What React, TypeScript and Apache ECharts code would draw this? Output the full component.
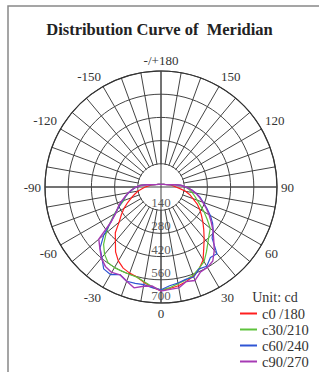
import React, { useEffect, useRef } from "react";
import * as echarts from "echarts";

const TITLE = "Distribution Curve of  Meridian";
const UNIT = "Unit: cd";
const NAMES = ["c0 /180", "c30/210", "c60/240", "c90/270"];
const COLORS = ["#ff1f1f", "#5ec23c", "#2f55d4", "#a63ab4"];
const RADIUS_TICKS = [140, 280, 420, 560, 700];

const ANGLES = [
  -180, -150, -135, -120, -110, -100, -95,
  -90, -85, -80, -75, -70, -65, -60, -55, -50, -45, -40, -35, -30, -25, -20, -15, -10, -5,
  0, 5, 10, 15, 20, 25, 30, 35, 40, 45, 50, 55, 60, 65, 70, 75, 80, 85, 90,
  95, 100, 110, 120, 135, 150, 180,
];

const C0 = [
  16, 18, 22, 30, 42, 62, 75,
  95, 115, 140, 163, 190, 222, 258, 292, 330, 390, 428, 478, 515, 540, 553, 562, 585, 608,
  625, 615, 605, 590, 572, 545, 508, 450, 405, 365, 330, 298, 270, 240, 205, 180, 150, 115, 90,
  75, 62, 42, 30, 22, 18, 16,
];
const C30 = [
  16, 18, 22, 30, 42, 80, 128,
  150, 175, 198, 222, 238, 280, 324, 375, 432, 490, 530, 557, 562, 560, 560, 563, 580, 605,
  622, 610, 592, 580, 566, 542, 520, 478, 440, 410, 388, 340, 300, 262, 232, 210, 190, 170, 148,
  120, 80, 42, 30, 22, 18, 16,
];
const C60 = [
  16, 18, 22, 30, 42, 80, 120,
  150, 172, 198, 222, 248, 280, 318, 370, 450, 520, 555, 603, 610, 584, 605, 602, 598, 610,
  620, 598, 588, 577, 578, 545, 552, 520, 525, 436, 412, 380, 344, 305, 272, 245, 215, 185, 150,
  120, 80, 42, 30, 22, 18, 16,
];
const C90 = [
  16, 18, 22, 30, 42, 80, 120,
  150, 175, 200, 225, 255, 285, 315, 368, 490, 522, 560, 585, 595, 585, 605, 630, 608, 600,
  628, 620, 618, 590, 600, 565, 560, 545, 500, 450, 410, 370, 335, 300, 268, 240, 212, 182, 150,
  120, 80, 42, 30, 22, 18, 16,
];
const SERIES_VALUES = [C0, C30, C60, C90];

const FONT = "Liberation Serif";
const CENTER = [161, 187];
const RADIUS = 116;

export default function App() {
  const ref = useRef<HTMLDivElement>(null);
  useEffect(() => {
    document.body.style.margin = "0";
    if (!ref.current) return;
    const chart = echarts.init(ref.current, null, { renderer: "svg" });
    const lineSeries = SERIES_VALUES.map((vals, i) => ({
      type: "line",
      name: NAMES[i],
      coordinateSystem: "polar",
      polarIndex: 0,
      data: vals.map((v, j) => [v, ANGLES[j]]),
      showSymbol: false,
      symbol: "none",
      lineStyle: { color: COLORS[i], width: i === 3 ? 1.4 : 1.2 },
      itemStyle: { color: COLORS[i] },
      z: 3,
      silent: true,
    }));
    chart.setOption({
      animation: false,
      backgroundColor: "#ffffff",
      title: {
        text: TITLE,
        left: "center",
        top: 21,
        padding: 0,
        textStyle: { fontFamily: FONT, fontWeight: "bold", fontSize: 16.5, color: "#222" },
      },
      polar: [
        { center: CENTER, radius: RADIUS },
        { center: CENTER, radius: RADIUS },
      ],
      angleAxis: [
        {
          polarIndex: 0,
          type: "value",
          min: -180,
          max: 180,
          interval: 10,
          startAngle: 90,
          clockwise: false,
          z: 0,
          axisLine: { lineStyle: { color: "#333", width: 1.2 } },
          axisTick: { show: false },
          axisLabel: {
            margin: 4,
            fontFamily: FONT,
            fontSize: 13,
            color: "#333",
            formatter: (v: number) => {
              if (v % 30 !== 0) return "";
              if (v === -180) return "-/+180";
              if (v === 180) return "";
              return String(v);
            },
          },
          splitLine: { lineStyle: { color: "#444", width: 1 } },
        },
        {
          polarIndex: 1,
          type: "value",
          min: -180,
          max: 180,
          interval: 90,
          startAngle: 90,
          clockwise: false,
          z: 2,
          axisLine: { show: false },
          axisTick: { show: false },
          axisLabel: { show: false },
          splitLine: { lineStyle: { color: "#444", width: 1 } },
        },
      ],
      radiusAxis: [
        {
          polarIndex: 0,
          min: 0,
          max: 700,
          interval: 140,
          axisLine: { show: false },
          axisTick: { show: false },
          axisLabel: { show: false },
          splitLine: { lineStyle: { color: "#444", width: 1 } },
        },
        {
          polarIndex: 1,
          min: 0,
          max: 700,
          interval: 140,
          axisLine: { show: false },
          axisTick: { show: false },
          axisLabel: { show: false },
          splitLine: { show: false },
        },
      ],
      legend: {
        data: NAMES.map((n) => ({ name: n, icon: "rect" })),
        orient: "vertical",
        left: 240,
        top: 306,
        padding: 0,
        itemWidth: 17,
        itemHeight: 2,
        itemGap: 1,
        textStyle: { fontFamily: FONT, fontSize: 14.5, color: "#333", lineHeight: 14 },
      },
      graphic: [
        {
          type: "rect",
          z: -10,
          silent: true,
          shape: { x: 8, y: 6, width: 340, height: 400 },
          style: { fill: "#ffffff", stroke: "#888", lineWidth: 1.5 },
        },
        {
          type: "text",
          x: 275,
          y: 297,
          style: {
            text: UNIT,
            fontFamily: FONT,
            fontSize: 14,
            fill: "#333",
            textAlign: "center",
            textVerticalAlign: "middle",
          },
        },
      ],
      series: [
        {
          type: "pie",
          center: CENTER,
          radius: [0, RADIUS / 5 - 0.7],
          silent: true,
          z: 1,
          label: { show: false },
          labelLine: { show: false },
          itemStyle: { color: "#ffffff" },
          emphasis: { disabled: true },
          data: [{ value: 1, name: "_center" }],
        },
        ...lineSeries,
        {
          type: "scatter",
          coordinateSystem: "polar",
          polarIndex: 0,
          symbolSize: 0,
          silent: true,
          z: 4,
          data: RADIUS_TICKS.map((v) => [v, 0]),
          label: {
            show: true,
            position: "top",
            distance: 1,
            fontFamily: FONT,
            fontSize: 13,
            color: "#333",
            formatter: (p: any) => String(p.value[0]),
          },
        },
      ],
    });
    return () => chart.dispose();
  }, []);
  return <div ref={ref} style={{ width: 319, height: 372 }} />;
}
